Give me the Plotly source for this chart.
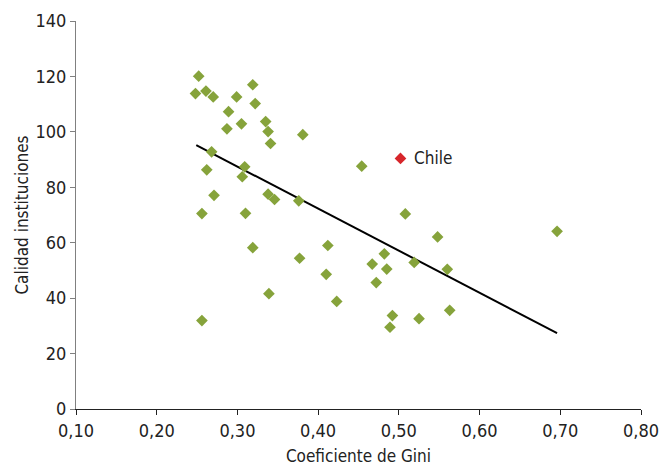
import plotly.graph_objects as go

gini = [0.252, 0.248, 0.261, 0.270, 0.319, 0.299, 0.322, 0.289, 0.287, 0.305,
        0.335, 0.338, 0.341, 0.381, 0.268, 0.262, 0.309, 0.306, 0.271, 0.338,
        0.346, 0.376, 0.256, 0.310, 0.319, 0.412, 0.377, 0.410, 0.467, 0.472,
        0.339, 0.423, 0.256, 0.454, 0.508, 0.548, 0.482, 0.485, 0.519, 0.560,
        0.492, 0.489, 0.525, 0.563, 0.696]
calidad = [120.1, 113.8, 114.7, 112.6, 117.0, 112.6, 110.2, 107.3, 101.1, 102.9,
           103.7, 100.1, 95.8, 99.0, 92.8, 86.3, 87.4, 83.8, 77.1, 77.5,
           75.6, 75.1, 70.5, 70.6, 58.2, 59.0, 54.4, 48.6, 52.3, 45.6,
           41.6, 38.8, 31.9, 87.6, 70.4, 62.1, 56.0, 50.5, 52.9, 50.4,
           33.7, 29.5, 32.6, 35.6, 64.1]

chile_gini = [0.502]
chile_calidad = [90.4]
chile_label = ["Chile"]

trend_x = [0.249, 0.696]
trend_y = [95.2, 27.4]

FONT = "Liberation Sans Narrow, DejaVu Sans Condensed, Roboto, sans-serif"

fig = go.Figure()
fig.add_trace(go.Scatter(x=trend_x, y=trend_y, mode="lines",
                         line=dict(color="black", width=2), hoverinfo="skip"))
fig.add_trace(go.Scatter(x=gini, y=calidad, mode="markers",
                         marker=dict(symbol="diamond", size=9, color="#86A33B",
                                     line=dict(width=0))))
fig.add_trace(go.Scatter(x=chile_gini, y=chile_calidad, mode="markers",
                         marker=dict(symbol="diamond", size=9, color="#D7262B",
                                     line=dict(width=0))))
fig.add_annotation(x=chile_gini[0], y=chile_calidad[0], text=chile_label[0],
                   showarrow=False, xanchor="left", xshift=12,
                   font=dict(size=17, color="#222222", family=FONT))

fig.update_layout(
    width=662, height=467,
    margin=dict(l=76, r=21, t=21, b=58),
    paper_bgcolor="white", plot_bgcolor="white",
    showlegend=False,
    separators=",.",
    font=dict(family=FONT, size=17, color="#222222"),
)
fig.update_xaxes(range=[0.1, 0.8], dtick=0.1, tick0=0.1, tickformat=".2f",
                 showgrid=False, zeroline=False, showline=True,
                 linecolor="#222222", linewidth=1.2, ticks="outside",
                 ticklen=5, tickcolor="#222222", automargin=False,
                 title=dict(text="Coeficiente de Gini", standoff=10,
                            font=dict(size=17)),
                 tickfont=dict(size=18))
fig.update_yaxes(range=[0, 140], dtick=20, showgrid=False, zeroline=False,
                 showline=True, linecolor="#808080", linewidth=1.2,
                 ticks="outside", ticklen=5, tickcolor="#808080",
                 automargin=False,
                 title=dict(text="Calidad instituciones", standoff=2,
                            font=dict(size=17)),
                 tickfont=dict(size=18))

fig.write_html("out.html")
